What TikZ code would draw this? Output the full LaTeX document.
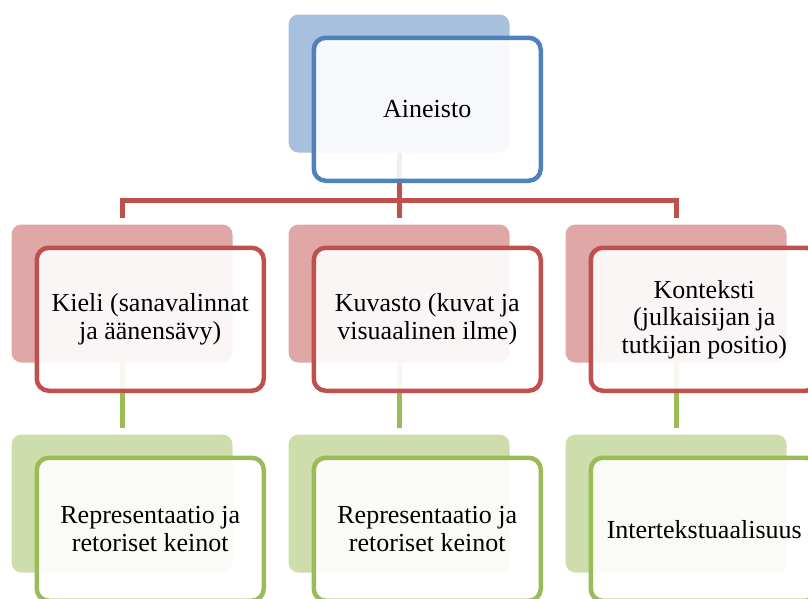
\documentclass[tikz,border=0pt]{standalone}
\usepackage{fontspec}
\setmainfont{Liberation Serif}
\usetikzlibrary{positioning}

\definecolor{kblue}{HTML}{4F81BD}
\definecolor{kblueback}{HTML}{A7C0DE}
\definecolor{kred}{HTML}{C0504D}
\definecolor{kredback}{HTML}{DFA8A7}
\definecolor{kgreen}{HTML}{9BBB59}
\definecolor{kgreenback}{HTML}{CDDEAC}

\tikzset{
  backbox/.style={rectangle, rounded corners=10pt, outer sep=0pt,
    minimum width=221pt, minimum height=138pt},
  frontbox/.style={rectangle, rounded corners=12pt, line width=4.5pt,
    fill=white, fill opacity=0.9, text opacity=1, anchor=north west,
    minimum width=227pt, minimum height=143pt, align=center,
    font=\fontsize{26}{27.5}\selectfont},
  link/.style={line width=5pt}
}

\begin{document}
\begin{tikzpicture}[x=1pt,y=-1pt]

    \clip (0,0) rectangle (808,598);

    % shaded back boxes
    \node[backbox, fill=kblueback] (ainb) at (399,83.5) {};
    \node[backbox, fill=kredback, below=72pt of ainb] (kuvb) {};
    \node[backbox, fill=kredback, left=56pt of kuvb] (kieb) {};
    \node[backbox, fill=kredback, right=56pt of kuvb] (konb) {};
    \node[backbox, fill=kgreenback, below=72pt of kieb] (rep1b) {};
    \node[backbox, fill=kgreenback, below=72pt of kuvb] (rep2b) {};
    \node[backbox, fill=kgreenback, below=72pt of konb] (intb) {};

    % connectors
    \coordinate (hub) at ([yshift=-48pt]ainb.south);
    \draw[link, kred] (ainb.south) -- (hub);
    \draw[link, kred] ([yshift=7pt]kieb.north) |- (hub) -| ([yshift=7pt]konb.north);
    \draw[link, kred] (hub) -- ([yshift=7pt]kuvb.north);
    \draw[link, kgreen] (kieb.south) -- ([yshift=7pt]rep1b.north);
    \draw[link, kgreen] (kuvb.south) -- ([yshift=7pt]rep2b.north);
    \draw[link, kgreen] (konb.south) -- ([yshift=7pt]intb.north);

    % front boxes
    \node[frontbox, draw=kblue] (ain) at ([xshift=23pt,yshift=-21pt]ainb.north west) {Aineisto};
    \node[frontbox, draw=kred] (kie) at ([xshift=23pt,yshift=-21pt]kieb.north west)
        {Kieli (sanavalinnat\\ja äänensävy)};
    \node[frontbox, draw=kred] (kuv) at ([xshift=23pt,yshift=-21pt]kuvb.north west)
        {Kuvasto (kuvat ja\\visuaalinen ilme)};
    \node[frontbox, draw=kred] (kon) at ([xshift=23pt,yshift=-21pt]konb.north west)
        {Konteksti\\(julkaisijan ja\\tutkijan positio)};
    \node[frontbox, draw=kgreen] (rep1) at ([xshift=23pt,yshift=-21pt]rep1b.north west)
        {Representaatio ja\\retoriset keinot};
    \node[frontbox, draw=kgreen] (rep2) at ([xshift=23pt,yshift=-21pt]rep2b.north west)
        {Representaatio ja\\retoriset keinot};
    \node[frontbox, draw=kgreen] (int) at ([xshift=23pt,yshift=-21pt]intb.north west)
        {Intertekstuaalisuus};

\end{tikzpicture}
\end{document}
